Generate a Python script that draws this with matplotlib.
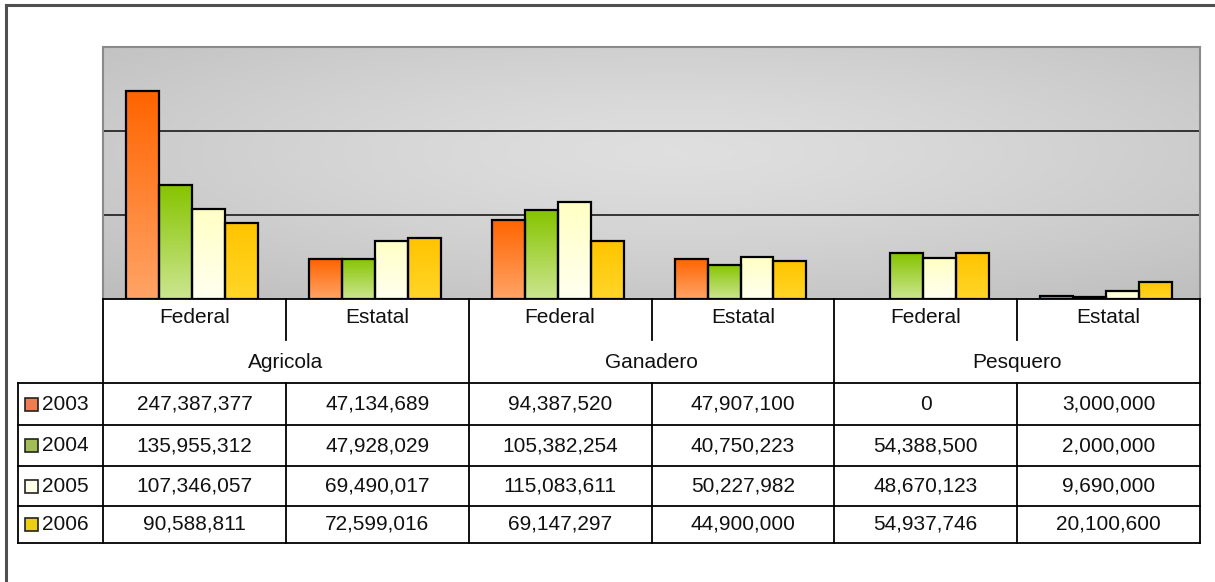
import numpy as np
import matplotlib
matplotlib.use("Agg")
import matplotlib.pyplot as plt
from matplotlib.colors import to_rgb
from matplotlib.lines import Line2D

plt.rcParams["font.family"] = ["Liberation Sans", "DejaVu Sans"]

# data
groups = ["Agricola", "Ganadero", "Pesquero"]
subgroups = ["Federal", "Estatal"]
years = ["2003", "2004", "2005", "2006"]
v2003 = [247387377, 47134689, 94387520, 47907100, 0, 3000000]
v2004 = [135955312, 47928029, 105382254, 40750223, 54388500, 2000000]
v2005 = [107346057, 69490017, 115083611, 50227982, 48670123, 9690000]
v2006 = [90588811, 72599016, 69147297, 44900000, 54937746, 20100600]
series = [v2003, v2004, v2005, v2006]

# fill gradients (top colour, bottom colour) and the small key colours
grad = [("#ff6400", "#ffa466"),
        ("#86c400", "#cce690"),
        ("#ffffc4", "#fffff0"),
        ("#ffc400", "#ffd628")]
keys = ["#ee7e52", "#a2bd55", "#ffffea", "#eccf10"]

W, H = 1215, 582
fig = plt.figure(figsize=(W / 100, H / 100), dpi=100)


def fx(px):
    return px / W


def fy(py):
    return 1 - py / H


def hline(y, x0, x1, **kw):
    fig.add_artist(Line2D([fx(x0), fx(x1)], [fy(y), fy(y)], color="black", lw=1.3, **kw))


def vline(x, y0, y1, **kw):
    fig.add_artist(Line2D([fx(x), fx(x)], [fy(y0), fy(y1)], color="black", lw=1.3, **kw))


# chart frame (cut at right/bottom)
fig.add_artist(Line2D([fx(6), fx(1216)], [fy(5), fy(5)], color="#505050", lw=2.2))
fig.add_artist(Line2D([fx(6), fx(6)], [fy(5), fy(583)], color="#505050", lw=2.2))

left, right, top, bottom = 103, 1200, 47, 299
ax = fig.add_axes([fx(left), fy(bottom), fx(right - left), (bottom - top) / H])

# radial grey background
gx, gy = np.meshgrid(np.linspace(0, 1, 400), np.linspace(0, 1, 200))
r = np.sqrt(((gx - 0.52) / 0.75) ** 2 + ((gy - 0.42) / 0.75) ** 2)
r = np.clip(r, 0, 1)
shade = 0.875 - 0.13 * r ** 1.3
bg = np.dstack([shade, shade, shade])
ax.imshow(bg, extent=[0, 1, 0, 1], transform=ax.transAxes, aspect="auto",
          zorder=0, origin="upper")

x = np.arange(len(groups) * len(subgroups))
bw = 0.18
shift = -0.013
for i, vals in enumerate(series):
    bars = ax.bar(x + (i - 1.5) * bw + shift, vals, width=bw, facecolor="none",
                  edgecolor="black", linewidth=1.6, zorder=3)
    c_top, c_bot = np.array(to_rgb(grad[i][0])), np.array(to_rgb(grad[i][1]))
    t = np.linspace(0, 1, 64)[:, None, None]
    img = c_top * (1 - t) + c_bot * t
    for rect in bars:
        h = rect.get_height()
        if h <= 0:
            rect.set_linewidth(0)
            continue
        x0 = rect.get_x()
        im = ax.imshow(img, extent=[x0, x0 + rect.get_width(), 0, h],
                       aspect="auto", origin="upper", zorder=2)
        im.set_clip_path(rect)

ax.set_xlim(-0.5, len(x) - 0.5)
ax.set_ylim(0, 300e6)
ax.set_yticks([100e6, 200e6])
ax.yaxis.grid(True, color="#1a1a1a", lw=1.2, zorder=1)
ax.set_axisbelow(True)
ax.set_xticks([])
ax.tick_params(left=False, labelleft=False)
for s in ["top", "right", "left"]:
    ax.spines[s].set_color("#8a8a8a")
    ax.spines[s].set_linewidth(1.5)
ax.spines["bottom"].set_linewidth(1.3)

# data table below the plot
col_w = (right - left) / len(x)
row_y = [383, 425, 466, 506, 543]
fs = 15

vline(left, bottom, row_y[-1])
for g in range(len(groups)):
    xg = left + (g + 1) * 2 * col_w
    vline(xg, bottom, row_y[-1])
    xs = left + (2 * g + 1) * col_w
    vline(xs, bottom, 340)
    vline(xs, row_y[0], row_y[-1])
    fig.text(fx(left + (2 * g + 1) * col_w), fy(362), groups[g], fontsize=fs,
             ha="center", va="center", color="#111111")
for j in range(len(x)):
    cx = left + (j + 0.5) * col_w
    fig.text(fx(cx), fy(318), subgroups[j % 2], fontsize=fs,
             ha="center", va="center", color="#111111")

for y in row_y:
    hline(y, 18, right)
vline(18, row_y[0], row_y[-1])

for i, vals in enumerate(series):
    cy = (row_y[i] + row_y[i + 1]) / 2
    fig.patches.append(plt.Rectangle((fx(25), fy(cy + 6.5)), fx(13), 13 / H,
                                     transform=fig.transFigure, facecolor=keys[i],
                                     edgecolor="#222222", lw=1.2))
    fig.text(fx(42), fy(cy), years[i], fontsize=fs, ha="left", va="center",
             color="#111111")
    for j, v in enumerate(vals):
        cx = left + (j + 0.5) * col_w
        fig.text(fx(cx), fy(cy), f"{v:,}", fontsize=fs, ha="center",
                 va="center", color="#111111")

fig.savefig("out.png", dpi=100, facecolor="white")
